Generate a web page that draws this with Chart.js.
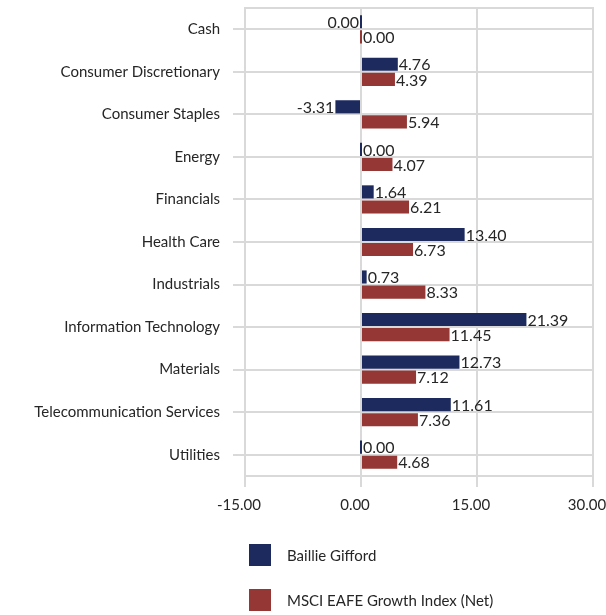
<!DOCTYPE html>
<html>
<head>
<meta charset="utf-8">
<script src="https://cdn.jsdelivr.net/npm/chart.js@4/dist/chart.umd.min.js"></script>
<style>
html,body{margin:0;padding:0;background:#fff;}
#wrap{width:606px;height:615px;position:relative;}
</style>
</head>
<body>
<div id="wrap"><canvas id="c" width="606" height="615"></canvas></div>
<script>
const categories = ["Cash","Consumer Discretionary","Consumer Staples","Energy","Financials","Health Care","Industrials","Information Technology","Materials","Telecommunication Services","Utilities"];
const seriesNames = ["Baillie Gifford","MSCI EAFE Growth Index (Net)"];
const bailliGifford = [-0, 4.76, -3.31, 0.00, 1.64, 13.40, 0.73, 21.39, 12.73, 11.61, 0.00];
const msciEafe = [0.00, 4.39, 5.94, 4.07, 6.21, 6.73, 8.33, 11.45, 7.12, 7.36, 4.68];
const xTicks = [-15, 0, 15, 30];
const colors = ["#1c2a5e", "#953735"];

const FONT = "Lato, 'Open Sans', sans-serif";
const TXT = "#262626";
const GRID = "#d9d9d9";

const valueLabels = {
  id: 'valueLabels',
  afterDatasetsDraw(chart) {
    const ctx = chart.ctx;
    ctx.save();
    ctx.font = "16px " + FONT;
    ctx.fillStyle = TXT;
    ctx.textBaseline = 'middle';
    chart.data.datasets.forEach((ds, di) => {
      const meta = chart.getDatasetMeta(di);
      meta.data.forEach((bar, i) => {
        const v = ds.data[i];
        const txt = Math.abs(v).toFixed(2) === "0.00" ? "0.00" : v.toFixed(2);
        const left = Math.min(bar.x, bar.base), right = Math.max(bar.x, bar.base);
        if (v < 0 || Object.is(v, -0)) {
          ctx.textAlign = 'right';
          ctx.fillText(txt, left - 1, bar.y + 1);
        } else {
          ctx.textAlign = 'left';
          ctx.fillText(txt, right + 1, bar.y + 1);
        }
      });
    });
    ctx.restore();
  }
};

const customLegend = {
  id: 'customLegend',
  afterDraw(chart) {
    const ctx = chart.ctx;
    ctx.save();
    ctx.font = "15px " + FONT;
    ctx.textBaseline = 'middle';
    ctx.textAlign = 'left';
    const x0 = chart.chartArea.left + 4;
    const y0 = 544;
    chart.data.datasets.forEach((ds, i) => {
      const y = y0 + i * 45;
      ctx.fillStyle = ds.backgroundColor;
      ctx.fillRect(x0, y, 22, 22);
      ctx.fillStyle = TXT;
      ctx.fillText(ds.label, x0 + 38, y + 12);
    });
    ctx.restore();
  }
};

new Chart(document.getElementById('c'), {
  type: 'bar',
  data: {
    labels: categories,
    datasets: [
      { label: seriesNames[0], data: bailliGifford, backgroundColor: colors[0] },
      { label: seriesNames[1], data: msciEafe, backgroundColor: colors[1] }
    ]
  },
  options: {
    indexAxis: 'y',
    responsive: false,
    animation: false,
    devicePixelRatio: 1,
    categoryPercentage: 0.71,
    barPercentage: 0.87,
    minBarLength: 2,
    layout: { padding: { top: 8, right: 13, left: 0, bottom: 0 } },
    plugins: { legend: { display: false }, tooltip: { enabled: false } },
    scales: {
      x: {
        min: xTicks[0], max: xTicks[xTicks.length - 1],
        afterBuildTicks: s => { s.ticks = xTicks.map(v => ({ value: v })); },
        afterFit: s => { s.height = 139; s.paddingRight = 0; s.paddingLeft = 0; },
        grid: { color: GRID, lineWidth: 2, tickLength: 11, drawTicks: true },
        border: { display: true, color: GRID, width: 2 },
        ticks: {
          font: { family: FONT, size: 15 }, color: TXT, padding: 9, labelOffset: -6,
          maxRotation: 0, autoSkip: false,
          callback: v => Number(v).toFixed(2)
        }
      },
      x2: {
        position: 'top', min: xTicks[0], max: xTicks[xTicks.length - 1],
        afterFit: s => { s.height = 0; s.paddingLeft = 0; s.paddingRight = 0; },
        grid: { display: false, drawTicks: false },
        ticks: { display: false },
        border: { display: true, color: GRID, width: 2 }
      },
      y: {
        afterFit: s => { s.width = 245; s.paddingTop = 0; s.paddingBottom = 0; },
        grid: { color: GRID, lineWidth: 2, tickLength: 12, offset: false },
        border: { display: true, color: GRID, width: 2 },
        ticks: { font: { family: FONT, size: 15 }, color: TXT, padding: 13, autoSkip: false }
      }
    }
  },
  plugins: [valueLabels, customLegend]
});
</script>
</body>
</html>
